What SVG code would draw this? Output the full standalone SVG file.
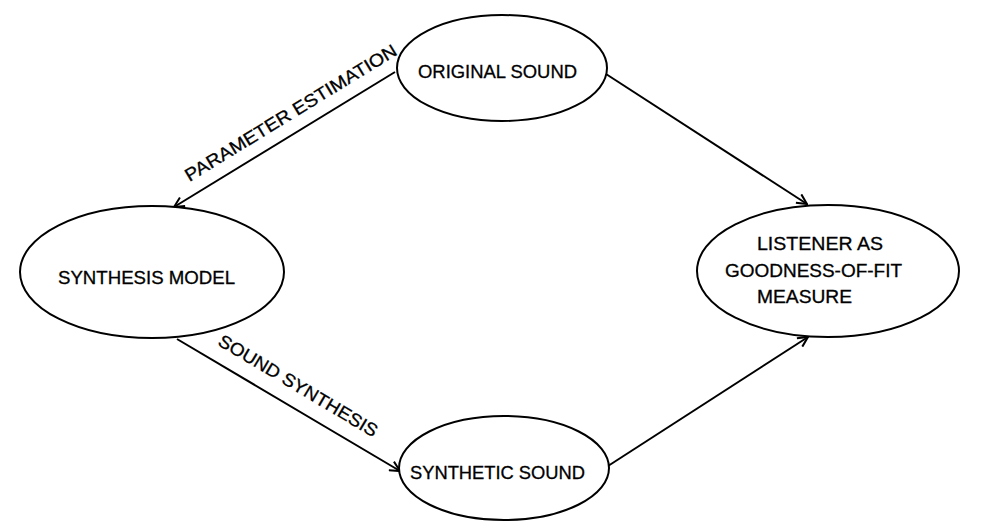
<svg xmlns="http://www.w3.org/2000/svg" width="990" height="532" viewBox="0 0 990 532">
<style>
.n{fill:#fff;stroke:#000;stroke-width:2}
.t{font-family:"Liberation Sans",Arial,sans-serif;font-size:18px;fill:#000;stroke:#000;stroke-width:0.3}
.m{text-anchor:middle}
.c{stroke:#000;stroke-width:2;fill:none;marker-end:url(#ah)}
</style>
<defs>
<marker id="ah" viewBox="0 0 12 12" refX="11" refY="6" markerWidth="12" markerHeight="12" markerUnits="userSpaceOnUse" orient="auto">
<path d="M1,1 L11,6 L1,11" fill="none" stroke="#000" stroke-width="2"/>
</marker>
</defs>
<rect width="990" height="532" fill="#fff"/>
<g id="connectors">
<line class="c" x1="395" y1="72" x2="174" y2="207"/>
<line class="c" x1="606" y1="74" x2="807" y2="204"/>
<line class="c" x1="177" y1="339" x2="400" y2="471"/>
<line class="c" x1="608" y1="466" x2="808" y2="337"/>
<text class="t m" transform="translate(294,118) rotate(-31.5)" textLength="245" lengthAdjust="spacingAndGlyphs">PARAMETER ESTIMATION</text>
<text class="t m" transform="translate(295,391) rotate(30.8)" textLength="182" lengthAdjust="spacingAndGlyphs">SOUND SYNTHESIS</text>
</g>
<g id="original">
<ellipse class="n" cx="502" cy="68" rx="105" ry="53"/>
<text class="t" x="418" y="78" textLength="159" lengthAdjust="spacingAndGlyphs">ORIGINAL SOUND</text>
</g>
<g id="model">
<ellipse class="n" cx="152" cy="272" rx="132" ry="66"/>
<text class="t" x="58" y="284" textLength="177" lengthAdjust="spacingAndGlyphs">SYNTHESIS MODEL</text>
</g>
<g id="listener">
<ellipse class="n" cx="828" cy="271" rx="131" ry="66"/>
<text class="t" x="757" y="250" textLength="126" lengthAdjust="spacingAndGlyphs">LISTENER AS</text>
<text class="t" x="725" y="277" textLength="177" lengthAdjust="spacingAndGlyphs">GOODNESS-OF-FIT</text>
<text class="t" x="757" y="303" textLength="95" lengthAdjust="spacingAndGlyphs">MEASURE</text>
</g>
<g id="synthetic">
<ellipse class="n" cx="504" cy="468" rx="105" ry="52"/>
<text class="t" x="410" y="479" textLength="175" lengthAdjust="spacingAndGlyphs">SYNTHETIC SOUND</text>
</g>
</svg>
